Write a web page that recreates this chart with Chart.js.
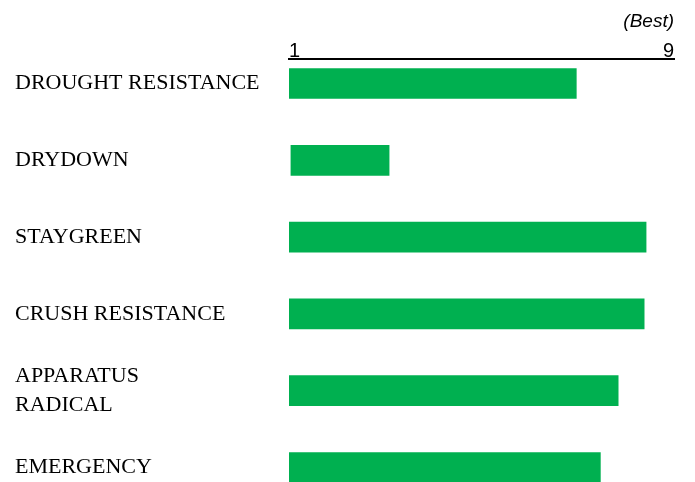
<!DOCTYPE html>
<html>
<head>
<meta charset="utf-8">
<script src="https://cdn.jsdelivr.net/npm/chart.js@4"></script>
<style>
  html, body { margin: 0; padding: 0; background: #ffffff; }
  #wrap { width: 695px; height: 482px; position: relative; }
</style>
</head>
<body>
<div id="wrap"><canvas id="c"></canvas></div>
<script>
const categories = ['DROUGHT RESISTANCE', 'DRYDOWN', 'STAYGREEN', 'CRUSH RESISTANCE', ['APPARATUS', 'RADICAL'], 'EMERGENCY'];
const barStarts = [1, 1.04, 1, 1, 1, 1];
const barEnds = [6.97, 3.08, 8.42, 8.38, 7.84, 7.47];
const scaleTicks = [1, 9];
const scaleNote = '(Best)';

const points = categories.map((c, i) => ({ y: i, x: [barStarts[i], barEnds[i]] }));

new Chart(document.getElementById('c'), {
  type: 'bar',
  data: {
    datasets: [{
      data: points,
      backgroundColor: '#00B050',
      borderWidth: 0,
      barThickness: 30
    }]
  },
  options: {
    indexAxis: 'y',
    responsive: true,
    maintainAspectRatio: false,
    animation: false,
    layout: { padding: { left: 15, right: 21, top: 0, bottom: 0 } },
    plugins: { legend: { display: false }, tooltip: { enabled: false } },
    scales: {
      x: {
        type: 'linear',
        position: 'top',
        min: scaleTicks[0],
        max: scaleTicks[scaleTicks.length - 1],
        afterBuildTicks: (s) => { s.ticks = scaleTicks.map(v => ({ value: v })); },
        grid: { display: false, drawTicks: false },
        border: { display: true, color: '#000000', width: 2 },
        ticks: {
          align: 'inner',
          padding: -2,
          color: '#000000',
          font: { family: 'Liberation Sans, Arial, sans-serif', size: 20, lineHeight: 1 }
        },
        title: {
          display: true,
          text: scaleNote,
          align: 'end',
          color: '#000000',
          padding: { top: 10, bottom: 0 },
          font: { family: 'Liberation Sans, Arial, sans-serif', size: 19, style: 'italic' }
        },
        afterFit: (s) => { s.height = 59; s.paddingLeft = 0; s.paddingRight = 0; }
      },
      y: {
        type: 'linear',
        reverse: true,
        offset: false,
        min: -0.319,
        max: 5.189,
        afterBuildTicks: (s) => { s.ticks = categories.map((c, i) => ({ value: i })); },
        grid: { display: false, drawTicks: false },
        border: { display: false },
        ticks: {
          crossAlign: 'far',
          color: '#000000',
          font: { family: 'Liberation Serif, Times New Roman, serif', size: 22, lineHeight: 1.36 },
          callback: (v) => categories[v]
        },
        afterFit: (s) => { s.width = 274; s.paddingTop = 0; s.paddingBottom = 0; }
      }
    }
  }
});
</script>
</body>
</html>
